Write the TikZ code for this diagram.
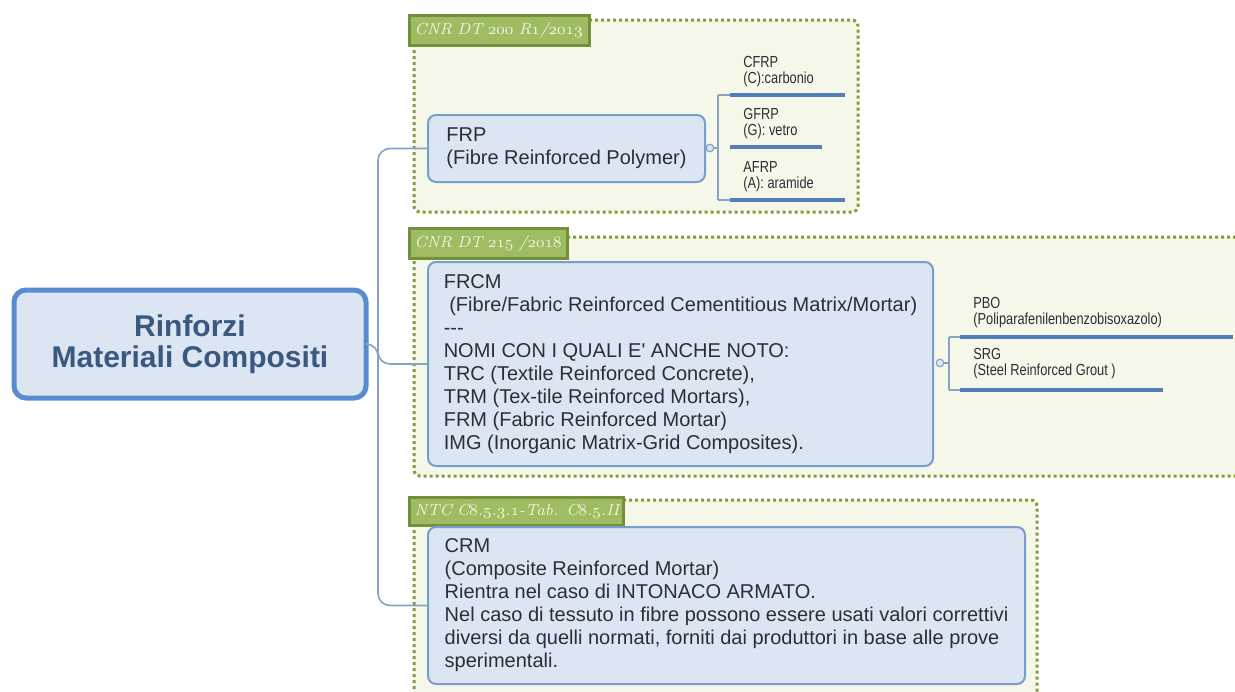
\documentclass[tikz,border=0pt]{standalone}
\usepackage{fontspec}
\newfontfamily\arialfont{Liberation Sans}
\newfontfamily\narrowfont[FakeStretch=0.8]{Liberation Sans}
\newcommand\osn[1]{{\usefont{OML}{cmm}{m}{it}#1}}

\definecolor{boxfill}{RGB}{220,230,242}
\definecolor{boxline}{RGB}{120,158,205}
\definecolor{rootblue}{RGB}{88,140,208}
\definecolor{roottext}{RGB}{58,88,128}
\definecolor{boxtext}{RGB}{45,45,55}
\definecolor{connline}{RGB}{135,162,196}
\definecolor{ulblue}{RGB}{82,126,186}
\definecolor{groupline}{RGB}{132,156,62}
\definecolor{groupfill}{RGB}{245,247,233}
\definecolor{tabfill}{RGB}{158,188,98}
\definecolor{tabline}{RGB}{116,144,58}
\definecolor{tabtext}{RGB}{242,246,228}

\tikzset{
  rootbox/.style={draw=rootblue, line width=2.5pt, fill=boxfill, rounded corners=6pt,
    minimum width=176pt, minimum height=54pt, align=center, text=roottext,
    font=\arialfont\bfseries\fontsize{15}{15.5}\selectfont},
  topicbox/.style={draw=boxline, line width=1pt, fill=boxfill, rounded corners=4pt,
    align=left, text=boxtext,
    font=\arialfont\fontsize{10}{11.5}\selectfont},
  groupbox/.style={draw=groupline, fill=groupfill, line width=1.5pt,
    dash pattern=on 1.5pt off 1.5pt, rounded corners=3pt},
  grouptab/.style={draw=tabline, fill=tabfill, line width=1.5pt, anchor=north west,
    inner xsep=2.5pt, align=left, text=tabtext,
    font=\itshape\fontsize{8}{9}\selectfont},
  subitem/.style={anchor=south west, inner sep=0pt, align=left, text=boxtext,
    font=\narrowfont\fontsize{8}{8}\selectfont},
  conn/.style={draw=connline, line width=0.8pt},
  ulbar/.style={draw=ulblue, line width=2pt},
  knob/.style={circle, draw=connline, fill=boxfill, line width=0.6pt,
    minimum size=3.8pt, inner sep=0pt},
}

\begin{document}
\begin{tikzpicture}[x=0.5pt, y=-0.5pt]
  \clip (0,0) rectangle (1235,691);
  \fill[white] (0,0) rectangle (1235,691);

  % groups
  \draw[groupbox] (414,20) rectangle (858,212);
  \draw[groupbox] (414,237) rectangle (1250,476);
  \draw[groupbox] (414,500) rectangle (1037,710);
  \node[grouptab, text width=85pt, minimum height=15pt] (tabfrp) at (408,14)
    {\mbox{CNR DT \osn{200} R\osn{1}/\osn{2013}}};
  \node[grouptab, text width=74pt, minimum height=15pt] (tabfrcm) at (408,227)
    {\mbox{CNR DT \osn{215} /\osn{2018}}};
  \node[grouptab, text width=102pt, minimum height=13.5pt] (tabcrm) at (408,496)
    {\mbox{NTC C\osn{8}.\osn{5}.\osn{3}.\osn{1}-Tab. C\osn{8}.\osn{5}.II}};

  % main topics
  \node[rootbox] (root) at (190,344) {Rinforzi\\Materiali Compositi};
  \node[topicbox, minimum width=138.5pt, minimum height=33.5pt] (frp) at (566.5,148.5)
    {FRP\\(Fibre Reinforced Polymer)};
  \node[topicbox, minimum width=252.5pt, minimum height=102pt] (frcm) at (680.5,364)
    {FRCM\\\ (Fibre/Fabric Reinforced Cementitious Matrix/Mortar)\\{-}{-}{-}\\
     NOMI CON I QUALI E\textquotesingle\ ANCHE NOTO:\\
     TRC (Textile Reinforced Concrete),\\
     TRM (Tex-tile Reinforced Mortars),\\
     FRM (Fabric Reinforced Mortar)\\
     IMG (Inorganic Matrix-Grid Composites).};
  \node[topicbox, minimum width=298.5pt, minimum height=78.5pt] (crm) at (726.5,605.5)
    {CRM\\(Composite Reinforced Mortar)\\Rientra nel caso di INTONACO ARMATO.\\
     Nel caso di tessuto in fibre possono essere usati valori correttivi\\
     diversi da quelli normati, forniti dai produttori in base alle prove\\
     sperimentali.};

  % trunk
  \coordinate (trunk) at (378,0);
  \draw[conn, rounded corners=6pt] (frp.west) -- (frp.west -| trunk)
    -- (crm.west -| trunk) -- (crm.west);
  \draw[conn, rounded corners=6pt] (root.east) -- (root.east -| trunk)
    |- (frcm.west);

  % FRP subtopics
  \node[knob] (frpknob) at (710,148) {};
  \coordinate (frpsub) at (718,148);
  \coordinate (cfrpa) at (730,95);  \coordinate (cfrpb) at (845,95);
  \coordinate (gfrpa) at (730,147); \coordinate (gfrpb) at (822,147);
  \coordinate (afrpa) at (730,200); \coordinate (afrpb) at (845,200);
  \draw[conn] (frpknob) -- (frpsub);
  \draw[conn] (cfrpa -| frpsub) -- (afrpa -| frpsub);
  \draw[conn] (cfrpa -| frpsub) -- (cfrpa);
  \draw[conn] (afrpa -| frpsub) -- (afrpa);
  \draw[ulbar] (cfrpa) -- (cfrpb);
  \draw[ulbar] (gfrpa) -- (gfrpb);
  \draw[ulbar] (afrpa) -- (afrpb);
  \node[subitem] (cfrp) at (743,87) {CFRP\\(C):carbonio};
  \node[subitem] (gfrp) at (743,139) {GFRP\\(G): vetro};
  \node[subitem] (afrp) at (743,192) {AFRP\\(A): aramide};

  % FRCM subtopics
  \node[knob] (frcmknob) at (940,363) {};
  \coordinate (frcmsub) at (949,363);
  \coordinate (pboa) at (960,337); \coordinate (pbob) at (1233,337);
  \coordinate (srga) at (960,390); \coordinate (srgb) at (1163,390);
  \draw[conn] (frcmknob) -- (frcmsub);
  \draw[conn] (pboa -| frcmsub) -- (srga -| frcmsub);
  \draw[conn] (pboa -| frcmsub) -- (pboa);
  \draw[conn] (srga -| frcmsub) -- (srga);
  \draw[ulbar] (pboa) -- (pbob);
  \draw[ulbar] (srga) -- (srgb);
  \node[subitem] (pbo) at (973,328) {PBO\\(Poliparafenilenbenzobisoxazolo)};
  \node[subitem] (srg) at (973,379) {SRG\\(Steel Reinforced Grout )};
\end{tikzpicture}
\end{document}
